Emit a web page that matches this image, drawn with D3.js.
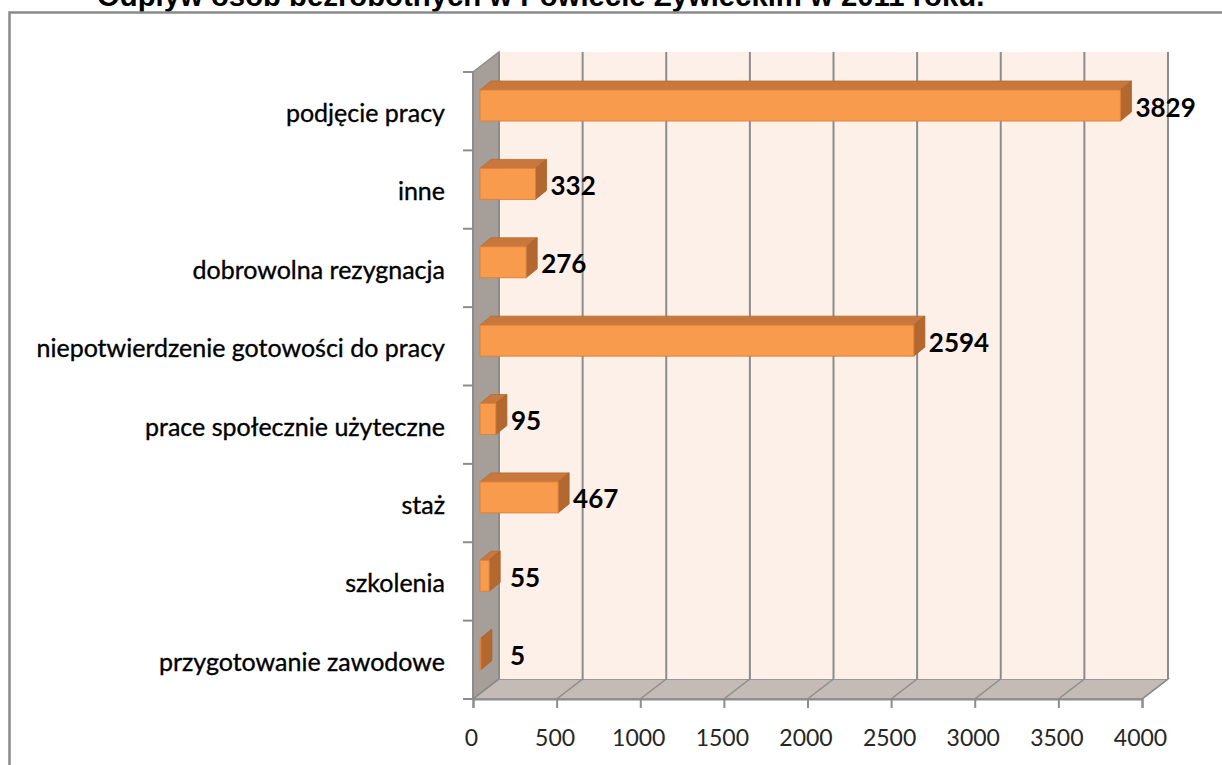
<!DOCTYPE html>
<html>
<head>
<meta charset="utf-8">
<script src="https://cdnjs.cloudflare.com/ajax/libs/d3/7.8.5/d3.min.js"></script>
<style>
  body { margin: 0; background: #fff; }
  .cat { font-family: Lato, "Noto Sans", sans-serif; font-size: 25px; fill: #000; stroke: #000; stroke-width: 0.35px; }
  .tick-lbl { font-family: Lato, "Noto Sans", sans-serif; font-size: 23px; fill: #262626; }
  .val { font-family: Lato, "Noto Sans", sans-serif; font-size: 26px; font-weight: bold; fill: #000; }
</style>
</head>
<body>
<div id="chart"></div>
<script>
// data
var titleText = "Odpływ osób bezrobotnych w Powiecie Żywieckim w 2011 roku.";
var categories = ["podjęcie pracy", "inne", "dobrowolna rezygnacja",
  "niepotwierdzenie gotowości do pracy", "prace społecznie użyteczne",
  "staż", "szkolenia", "przygotowanie zawodowe"];
var values = [3829, 332, 276, 2594, 95, 467, 55, 5];
var xTicks = [0, 500, 1000, 1500, 2000, 2500, 3000, 3500, 4000];

var svgWidth = 1222;
var svgHeight = 765;

// 3d offsets: wall depth, bar plane offset, bar depth
var DX = 26, DY = -20;
var BX = 7, BY = -6;
var BDX = 11, BDY = -9;
var barH = 31;

var svg = d3.select("#chart")
  .append("svg")
  .attr("width", svgWidth)
  .attr("height", svgHeight);

var x = d3.scaleLinear().domain([0, 4000]).range([473, 1142]);
var y = d3.scaleBand().domain(categories).range([72, 699]).paddingInner(0);

// title (cut off at top, as in the source)
svg.append("text")
  .attr("x", 97)
  .attr("y", 6)
  .attr("font-family", "'Liberation Sans', Arial, sans-serif")
  .attr("font-weight", "bold")
  .attr("font-size", 29.3)
  .attr("fill", "#000")
  .text(titleText);

// outer frame
svg.append("rect")
  .attr("x", 9.5).attr("y", 12.5)
  .attr("width", 1300).attr("height", 900)
  .attr("fill", "#fff")
  .attr("stroke", "#8a8a8a")
  .attr("stroke-width", 2.5);

var x0 = x(0), x1 = x(4000), yT = y.range()[0], yB = y.range()[1];
var gridColor = "#8c8c8c";

// side wall
svg.append("polygon")
  .attr("points", [[x0, yT], [x0 + DX, yT + DY], [x0 + DX, yB + DY], [x0, yB]].join(" "))
  .attr("fill", "#a69e99")
  .attr("stroke", gridColor).attr("stroke-width", 1.5);

// floor
svg.append("polygon")
  .attr("points", [[x0, yB], [x1, yB], [x1 + DX, yB + DY], [x0 + DX, yB + DY]].join(" "))
  .attr("fill", "#c5bbb6")
  .attr("stroke", gridColor).attr("stroke-width", 1.5);

// back wall
svg.append("rect")
  .attr("x", x0 + DX).attr("y", yT + DY)
  .attr("width", x1 - x0).attr("height", yB - yT)
  .attr("fill", "#fdf0e8");

// gridlines on back wall and floor
xTicks.forEach(function(t) {
  svg.append("line")
    .attr("x1", x(t) + DX).attr("x2", x(t) + DX)
    .attr("y1", yT + DY).attr("y2", yB + DY)
    .attr("stroke", gridColor).attr("stroke-width", 2);
  svg.append("line")
    .attr("x1", x(t)).attr("y1", yB)
    .attr("x2", x(t) + DX).attr("y2", yB + DY)
    .attr("stroke", gridColor).attr("stroke-width", 1.5);
});

// x axis along the front floor edge
var bottomAxis = d3.axisBottom(x)
  .tickValues(xTicks)
  .tickFormat(d3.format("d"))
  .tickSize(9)
  .tickPadding(22);
var xAxisG = svg.append("g")
  .attr("transform", `translate(0, ${yB})`)
  .call(bottomAxis);
xAxisG.select(".domain").attr("stroke", gridColor).attr("stroke-width", 2);
xAxisG.selectAll(".tick line").attr("stroke", gridColor).attr("stroke-width", 2);
xAxisG.selectAll(".tick text")
  .attr("class", "tick-lbl")
  .attr("fill", null)
  .attr("dx", -2);
xAxisG.attr("font-family", null).attr("font-size", null);

// y axis: front edge + ticks at band boundaries
svg.append("line")
  .attr("x1", x0).attr("x2", x0).attr("y1", yT).attr("y2", yB)
  .attr("stroke", gridColor).attr("stroke-width", 2);
var bounds = categories.map(function(c) { return y(c); }).concat([yB]);
svg.selectAll(".ytick")
  .data(bounds)
  .enter()
  .append("line")
  .attr("class", "ytick")
  .attr("x1", x0 - 10).attr("x2", x0)
  .attr("y1", d => d).attr("y2", d => d)
  .attr("stroke", gridColor).attr("stroke-width", 2);

// category labels
svg.selectAll(".cat")
  .data(categories)
  .enter()
  .append("text")
  .attr("class", "cat")
  .attr("x", 445)
  .attr("y", d => y(d) + 50)
  .attr("text-anchor", "end")
  .text(d => d);

// bars
var rows = categories.map(function(c, i) { return { cat: c, v: values[i] }; });

var bars = svg.selectAll(".bar")
  .data(rows)
  .enter()
  .append("g")
  .attr("class", "bar");

function barTop(d) { return y(d.cat) + 18; }

bars.append("polygon")
  .attr("points", function(d) {
    var xa = x(0) + BX, xb = x(d.v) + BX, t = barTop(d);
    return [[xa, t], [xb, t], [xb + BDX, t + BDY], [xa + BDX, t + BDY]].join(" ");
  })
  .attr("fill", "#c8783c")
  .attr("stroke", "#b86a30").attr("stroke-width", 0.8);

bars.append("polygon")
  .attr("points", function(d) {
    var xb = x(d.v) + BX, t = barTop(d);
    return [[xb, t], [xb + BDX, t + BDY], [xb + BDX, t + barH + BDY], [xb, t + barH]].join(" ");
  })
  .attr("fill", "#b2682f")
  .attr("stroke", "#a65f2a").attr("stroke-width", 0.8);

bars.append("rect")
  .attr("x", x(0) + BX)
  .attr("y", d => barTop(d))
  .attr("width", d => x(d.v) - x(0))
  .attr("height", barH)
  .attr("fill", "#f89b4d")
  .attr("stroke", "#dc823c").attr("stroke-width", 1);

// value labels
bars.append("text")
  .attr("class", "val")
  .attr("x", d => Math.max(x(d.v) + BX + BDX + 4, x(0) + 37))
  .attr("y", d => barTop(d) + barH / 2 + 1)
  .attr("dominant-baseline", "central")
  .text(d => d.v);
</script>
</body>
</html>
